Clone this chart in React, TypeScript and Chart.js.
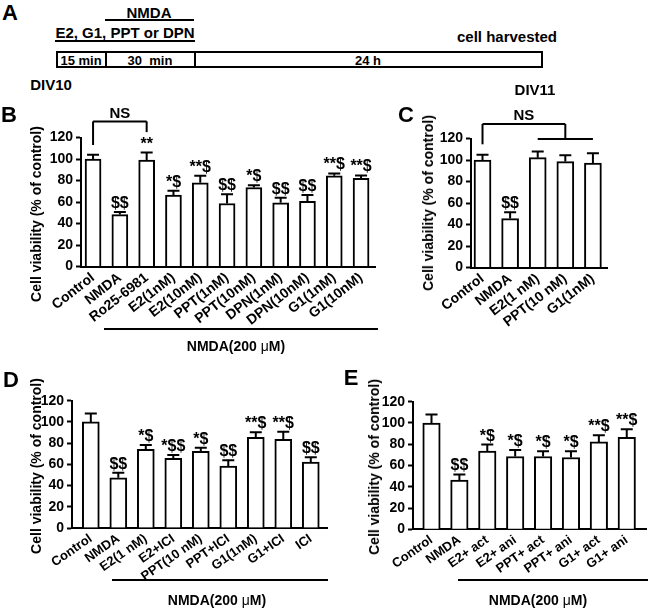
import React, { useEffect, useRef } from 'react';
import { Chart, registerables } from 'chart.js';
Chart.register(...registerables);

const FONT = "Arial, 'Liberation Sans', Helvetica, sans-serif";

// ---------- Panel B ----------
const bLabels = ['Control', 'NMDA', 'Ro25-6981', 'E2(1nM)', 'E2(10nM)', 'PPT(1nM)', 'PPT(10nM)', 'DPN(1nM)', 'DPN(10nM)', 'G1(1nM)', 'G1(10nM)'];
const bValues = [100, 48.3, 99, 66.4, 77.9, 58.6, 73.5, 59.2, 60.7, 84.4, 82];
const bErrors = [4, 2.5, 7, 4, 6.5, 8.5, 2, 4.7, 5.7, 2.2, 2.7];
const bMarks = ['', '$$', '**', '*$', '**$', '$$', '*$', '$$', '$$', '**$', '**$'];

// ---------- Panel C ----------
const cLabels = ['Control', 'NMDA', 'E2(1 nM)', 'PPT(10 nM)', 'G1(1nM)'];
const cValues = [100, 45.5, 102.2, 98.5, 97.2];
const cErrors = [4.9, 6, 5.6, 6, 9];
const cMarks = ['', '$$', '', '', ''];

// ---------- Panel D ----------
const dLabels = ['Control', 'NMDA', 'E2(1 nM)', 'E2+ICI', 'PPT(10 nM)', 'PPT+ICI', 'G1(1nM)', 'G1+ICI', 'ICI'];
const dValues = [100, 47.4, 74.2, 65.7, 72.3, 58.4, 85.5, 83.6, 62.2];
const dErrors = [8, 4.7, 4, 3, 3.4, 5.4, 4.7, 7.2, 4.4];
const dMarks = ['', '$$', '*$', '*$$', '*$', '$$', '**$', '**$', '$$'];

// ---------- Panel E ----------
const eLabels = ['Control', 'NMDA', 'E2+ act', 'E2+ ani', 'PPT+ act', 'PPT+ ani', 'G1+ act', 'G1+ ani'];
const eValues = [100, 46.2, 73.5, 68.5, 68.5, 67.5, 82.2, 86.6];
const eErrors = [8, 5.4, 6.2, 6, 5, 6, 6.3, 7.5];
const eMarks = ['', '$$', '*$', '*$', '*$', '*$', '**$', '**$'];

const yTickValues = [0, 20, 40, 60, 80, 100, 120];
const yMin = 0;
const yMax = 120;

type Seg = [number, number, number, number];
type PanelCfg = {
  labels: string[];
  values: number[];
  errors: number[];
  marks: string[];
  box: { left: number; top: number; width: number; height: number };
  area: { x0: number; x1: number; y0: number; y1: number };
  xmin: number;
  xmax: number;
  barW: number;
  capW: number;
  rot: number;
  labelSize: number;
  segs: Seg[];
  ns?: { x: number; y: number };
};

const panels: PanelCfg[] = [
  {
    labels: bLabels, values: bValues, errors: bErrors, marks: bMarks,
    box: { left: 0, top: 95, width: 400, height: 235 },
    area: { x0: 81, x1: 375, y0: 137.5, y1: 266.5 },
    xmin: -0.45, xmax: 10.52, barW: 16, capW: 12, rot: 38, labelSize: 14,
    segs: [[0, 113, 0, 135], [0, 135, 2, 135], [2, 135, 2, 125]],
    ns: { x: 1, y: 138 },
  },
  {
    labels: cLabels, values: cValues, errors: cErrors, marks: cMarks,
    box: { left: 400, top: 95, width: 248, height: 235 },
    area: { x0: 471, x1: 607, y0: 138.5, y1: 267.5 },
    xmin: -0.417, xmax: 4.51, barW: 17, capW: 12, rot: 38, labelSize: 14,
    segs: [[0, 114.6, 0, 133.5], [0, 133.5, 3, 133.5], [3, 133.5, 3, 119.5], [2, 119.5, 4, 119.5]],
    ns: { x: 1.5, y: 137.2 },
  },
  {
    labels: dLabels, values: dValues, errors: dErrors, marks: dMarks,
    box: { left: 0, top: 370, width: 340, height: 215 },
    area: { x0: 72, x1: 327, y0: 400.7, y1: 528 },
    xmin: -0.684, xmax: 8.59, barW: 17, capW: 12, rot: 35, labelSize: 13,
    segs: [],
  },
  {
    labels: eLabels, values: eValues, errors: eErrors, marks: eMarks,
    box: { left: 340, top: 370, width: 308, height: 215 },
    area: { x0: 413, x1: 646, y0: 401.7, y1: 529.3 },
    xmin: -0.663, xmax: 7.69, barW: 17.5, capW: 12, rot: 35, labelSize: 13,
    segs: [],
  },
];

function BarPanel({ cfg }: { cfg: PanelCfg }) {
  const ref = useRef<HTMLCanvasElement | null>(null);
  useEffect(() => {
    const canvas = ref.current;
    if (!canvas) return;
    const { box, area } = cfg;
    const yw = area.x0 - box.left;
    const xh = box.top + box.height - area.y1;
    const padTop = area.y0 - box.top;
    const padRight = box.left + box.width - area.x1;

    const overlay = {
      id: 'errAndMarks',
      afterDatasetsDraw(chart: any) {
        const ctx = chart.ctx;
        const ys = chart.scales.y;
        const xs = chart.scales.x;
        const meta = chart.getDatasetMeta(0);
        ctx.save();
        ctx.strokeStyle = '#000';
        ctx.fillStyle = '#000';
        ctx.lineWidth = 2;
        ctx.textAlign = 'center';
        ctx.textBaseline = 'alphabetic';
        meta.data.forEach((bar: any, i: number) => {
          const top = ys.getPixelForValue(cfg.values[i] + cfg.errors[i]);
          ctx.beginPath();
          ctx.moveTo(bar.x, bar.y);
          ctx.lineTo(bar.x, top);
          ctx.moveTo(bar.x - cfg.capW / 2, top);
          ctx.lineTo(bar.x + cfg.capW / 2, top);
          ctx.stroke();
          if (cfg.marks[i]) {
            ctx.font = `bold 16px ${FONT}`;
            ctx.fillText(cfg.marks[i], bar.x, top - 4);
          }
        });
        cfg.segs.forEach((s) => {
          ctx.beginPath();
          ctx.moveTo(xs.getPixelForValue(s[0]), ys.getPixelForValue(s[1]));
          ctx.lineTo(xs.getPixelForValue(s[2]), ys.getPixelForValue(s[3]));
          ctx.stroke();
        });
        if (cfg.ns) {
          ctx.font = `bold 15px ${FONT}`;
          ctx.fillText('NS', xs.getPixelForValue(cfg.ns.x), ys.getPixelForValue(cfg.ns.y));
        }
        ctx.restore();
      },
    };

    const chart = new Chart(canvas, {
      type: 'bar',
      data: {
        datasets: [
          {
            data: cfg.values.map((v, i) => ({ x: i, y: v })) as any,
            backgroundColor: '#fff',
            borderColor: '#000',
            borderWidth: 2,
            barThickness: cfg.barW,
          },
        ],
      },
      options: {
        animation: false,
        responsive: false,
        maintainAspectRatio: false,
        layout: { padding: { top: padTop, right: padRight, left: 0, bottom: 0 } },
        plugins: { legend: { display: false }, tooltip: { enabled: false } },
        scales: {
          x: {
            type: 'linear',
            min: cfg.xmin,
            max: cfg.xmax,
            offset: false,
            grid: { display: false, drawTicks: false, offset: false },
            border: { display: true, color: '#000', width: 2 },
            ticks: {
              autoSkip: false,
              maxRotation: cfg.rot,
              minRotation: cfg.rot,
              padding: 3,
              color: '#000',
              font: { family: FONT, size: cfg.labelSize, weight: 'bold' },
              callback: (v: any) => cfg.labels[v as number] ?? '',
            },
            afterBuildTicks: (s: any) => {
              s.ticks = cfg.labels.map((_, i) => ({ value: i }));
            },
            afterFit: (s: any) => {
              s.height = xh;
              s.paddingLeft = 0;
              s.paddingRight = 0;
            },
          } as any,
          y: {
            min: yMin,
            max: yMax,
            grid: { display: true, drawOnChartArea: false, drawTicks: true, tickLength: 5, tickColor: '#000', tickWidth: 2 },
            border: { display: true, color: '#000', width: 2 },
            ticks: {
              padding: 3,
              color: '#000',
              font: { family: FONT, size: 14, weight: 'bold' },
            },
            afterBuildTicks: (s: any) => {
              s.ticks = yTickValues.map((v) => ({ value: v }));
            },
            afterFit: (s: any) => {
              s.width = yw;
              s.paddingTop = 0;
              s.paddingBottom = 0;
            },
          } as any,
        },
      },
      plugins: [overlay],
    });
    return () => chart.destroy();
  }, [cfg]);
  const { box } = cfg;
  return (
    <canvas
      ref={ref}
      width={box.width}
      height={box.height}
      style={{ position: 'absolute', left: box.left, top: box.top, width: box.width, height: box.height }}
    />
  );
}

function Txt({ x, y, size = 15, children, rotate = false }: { x: number; y: number; size?: number; children: any; rotate?: boolean }) {
  return (
    <div
      style={{
        position: 'absolute',
        left: x,
        top: y,
        transform: `translate(-50%, -50%)${rotate ? ' rotate(-90deg)' : ''}`,
        whiteSpace: 'pre',
        font: `bold ${size}px ${FONT}`,
        color: '#000',
        lineHeight: 1,
      }}
    >
      {children}
    </div>
  );
}

function HLine({ x0, x1, y }: { x0: number; x1: number; y: number }) {
  return <div style={{ position: 'absolute', left: x0, top: y - 1, width: x1 - x0, height: 0, borderTop: '2px solid #000' }} />;
}

const mu = <span style={{ fontWeight: 'normal' }}>μ</span>;
const yTitle = 'Cell viability (% of control)';

export default function App() {
  return (
    <div style={{ position: 'absolute', left: 0, top: 0, width: 648, height: 613, overflow: 'hidden', background: '#fff' }}>
      {panels.map((p, i) => (
        <BarPanel key={i} cfg={p} />
      ))}

      {/* Panel A timeline */}
      <Txt x={10} y={13} size={22}>A</Txt>
      <Txt x={149} y={11.5}>NMDA</Txt>
      <HLine x0={105} x1={194} y={19.5} />
      <Txt x={125} y={32}>E2, G1, PPT or DPN</Txt>
      <HLine x0={55} x1={195} y={41} />
      <Txt x={507} y={36}>cell harvested</Txt>
      <div style={{ position: 'absolute', left: 56, top: 51, width: 487, height: 17, border: '2px solid #000', boxSizing: 'border-box' }} />
      <div style={{ position: 'absolute', left: 105, top: 51, width: 2, height: 17, background: '#000' }} />
      <div style={{ position: 'absolute', left: 194, top: 51, width: 2, height: 17, background: '#000' }} />
      <Txt x={81} y={59.5} size={13}>15 min</Txt>
      <Txt x={150} y={59.5} size={13}>30  min</Txt>
      <Txt x={368} y={59.5} size={13}>24 h</Txt>
      <Txt x={51} y={84}>DIV10</Txt>
      <Txt x={535} y={89}>DIV11</Txt>

      {/* Panel letters */}
      <Txt x={9} y={115} size={22}>B</Txt>
      <Txt x={406} y={115} size={22}>C</Txt>
      <Txt x={11} y={380} size={22}>D</Txt>
      <Txt x={351} y={378} size={22}>E</Txt>

      {/* Y titles */}
      <Txt x={36} y={214} size={14} rotate>{yTitle}</Txt>
      <Txt x={428} y={203} size={14} rotate>{yTitle}</Txt>
      <Txt x={36} y={466} size={14} rotate>{yTitle}</Txt>
      <Txt x={374} y={467} size={14} rotate>{yTitle}</Txt>

      {/* NMDA treatment lines */}
      <HLine x0={104} x1={378} y={329} />
      <Txt x={236} y={346} size={14}>NMDA(200 {mu}M)</Txt>
      <HLine x0={112} x1={328} y={580} />
      <Txt x={217} y={600} size={14}>NMDA(200 {mu}M)</Txt>
      <HLine x0={458} x1={648} y={580} />
      <Txt x={538} y={600} size={14}>NMDA(200 {mu}M)</Txt>
    </div>
  );
}
